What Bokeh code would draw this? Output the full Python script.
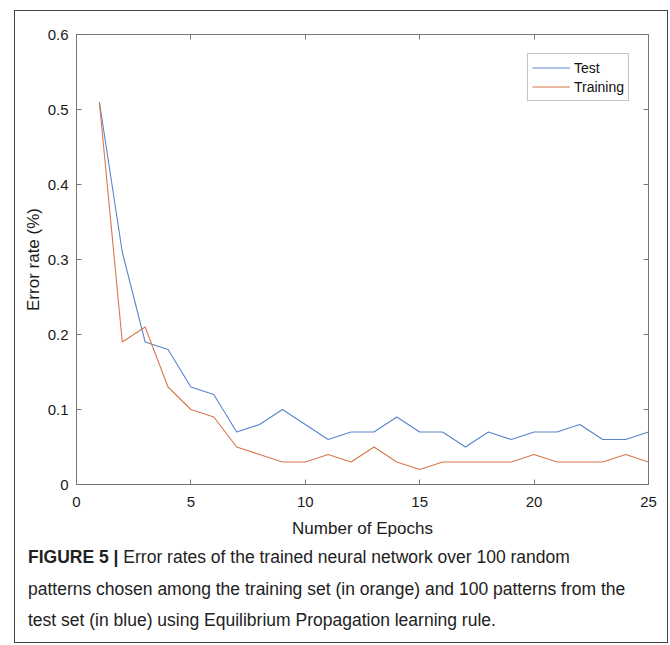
from bokeh.plotting import figure
from bokeh.models import (LinearAxis, FixedTicker, CustomJSTickFormatter, Range1d,
                          Legend, LegendItem, Div)
from bokeh.layouts import column
from bokeh.embed import file_html
from bokeh.resources import INLINE

# ---- data ----
epochs = list(range(1, 26))
test_err = [0.51, 0.31, 0.19, 0.18, 0.13, 0.12, 0.07, 0.08, 0.10, 0.08,
            0.06, 0.07, 0.07, 0.09, 0.07, 0.07, 0.05, 0.07, 0.06, 0.07,
            0.07, 0.08, 0.06, 0.06, 0.07]
train_err = [0.51, 0.19, 0.21, 0.13, 0.10, 0.09, 0.05, 0.04, 0.03, 0.03,
             0.04, 0.03, 0.05, 0.03, 0.02, 0.03, 0.03, 0.03, 0.03, 0.04,
             0.03, 0.03, 0.03, 0.04, 0.03]
x_ticks = [0, 5, 10, 15, 20, 25]
y_ticks = [0, 0.1, 0.2, 0.3, 0.4, 0.5, 0.6]
series_names = ["Test", "Training"]
x_label = "Number of Epochs"
y_label = "Error rate (%)"
caption_bold = "FIGURE 5 |"
caption_lines = [" Error rates of the trained neural network over 100 random",
                 "patterns chosen among the training set (in orange) and 100 patterns from the",
                 "test set (in blue) using Equilibrium Propagation learning rule."]

BLUE = "#5a84cc"
ORANGE = "#d8774c"
AXIS_C = "#777777"
FONT = "Liberation Sans"
EDGE_C = "#444444"

FIG_W, FIG_H, CAP_H = 652, 529, 102

p = figure(width=FIG_W, height=FIG_H, output_backend="svg", toolbar_location=None,
           x_range=Range1d(0, 25), y_range=Range1d(0, 0.6),
           min_border_left=61, min_border_right=19, min_border_top=23,
           min_border_bottom=54, margin=0)
p.background_fill_color = "white"
p.border_fill_color = "white"
p.outline_line_color = AXIS_C
p.outline_line_width = 1
p.grid.visible = False

l_test = p.line(epochs, test_err, line_color=BLUE, line_width=1.1)
l_train = p.line(epochs, train_err, line_color=ORANGE, line_width=1.1)

fmt = CustomJSTickFormatter(code="return tick == 0 ? '0' : (Number.isInteger(tick) ? tick.toString() : tick.toFixed(1));")

def style_axis(ax, ticks, show_labels):
    ax.ticker = FixedTicker(ticks=ticks)
    ax.formatter = fmt
    ax.axis_line_color = AXIS_C
    ax.major_tick_line_color = AXIS_C
    ax.major_tick_in = 5
    ax.major_tick_out = 0
    ax.minor_tick_line_color = None
    ax.major_label_text_font = FONT
    ax.major_label_text_font_size = "15px"
    ax.major_label_text_color = "#1a1a1a" if show_labels else None
    ax.axis_label_text_font = FONT
    ax.axis_label_text_font_style = "normal"
    ax.axis_label_text_font_size = "17px"
    ax.axis_label_text_color = "#1a1a1a"

xa = p.xaxis[0]
ya = p.yaxis[0]
style_axis(xa, x_ticks, True)
style_axis(ya, y_ticks, True)
xa.axis_label = x_label
ya.axis_label = y_label
xa.major_label_standoff = 12
ya.major_label_standoff = 8
xa.axis_label_standoff = 9
ya.axis_label_standoff = 2

top_ax = LinearAxis()
right_ax = LinearAxis()
style_axis(top_ax, x_ticks, False)
style_axis(right_ax, y_ticks, False)
top_ax.major_label_text_font_size = "0px"
right_ax.major_label_text_font_size = "0px"
p.add_layout(top_ax, "above")
p.add_layout(right_ax, "right")

legend = Legend(items=[LegendItem(label=series_names[0], renderers=[l_test]),
                       LegendItem(label=series_names[1], renderers=[l_train])],
                location="top_right")
legend.margin = 19
legend.padding = 4
legend.spacing = 0
legend.label_height = 19
legend.glyph_height = 19
legend.glyph_width = 38
legend.label_standoff = 4
legend.label_text_font = FONT
legend.label_text_font_size = "14px"
legend.label_text_color = "#111111"
legend.border_line_color = "#8a8a8a"
legend.border_line_width = 1
legend.background_fill_alpha = 1
p.add_layout(legend, "center")

caption_html = (f"<b>{caption_bold}</b>{caption_lines[0]}<br>"
                + "<br>".join(caption_lines[1:]))
caption = Div(text=caption_html, width=FIG_W, height=CAP_H, margin=0,
              styles={"font-family": "'Liberation Sans', sans-serif",
                      "font-size": "17.5px", "line-height": "31.5px", "color": "#222",
                      "padding-left": "13px", "padding-top": "2px",
                      "white-space": "nowrap", "box-sizing": "border-box",
                      "background-color": "white"})

layout = column(p, caption, margin=(10, 0, 0, 14), spacing=0,
                styles={"border": f"1px solid {EDGE_C}", "background": "white"})

open("out.html", "w").write(file_html(layout, INLINE))
